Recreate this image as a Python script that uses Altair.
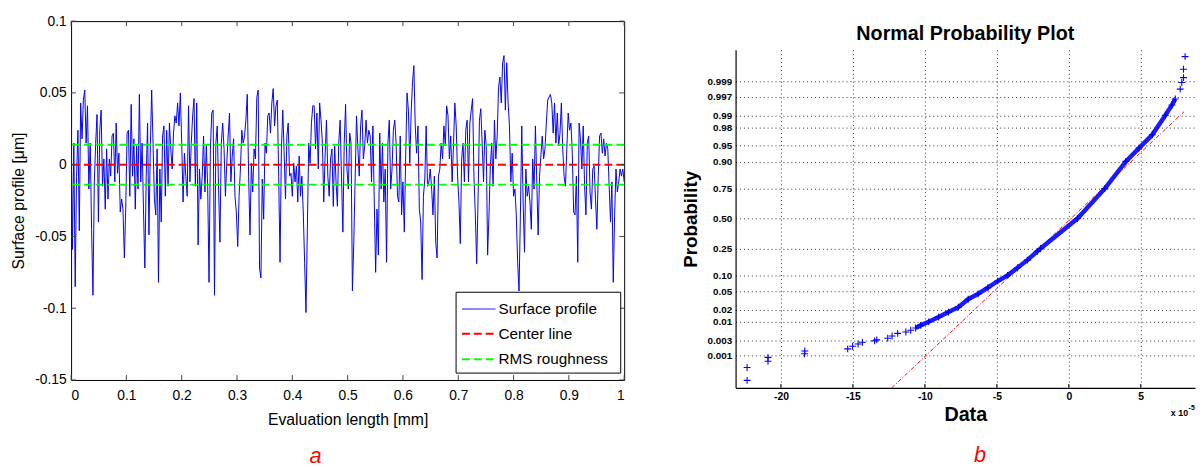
import math
import altair as alt
import pandas as pd
import numpy as np

FONT = "Liberation Sans"

# ---------------- Panel a : surface profile ----------------
# surface profile values read from the picture, in units of 1e-3 um, evenly sampled over 0..1 mm
profile_milli_um = [
    24,-59,15,-85,-8,24,-46,43,18,45,52,15,41,-17,15,-45,-91,-12,15,35,-40,24,38,-15,4,-31,11,-24,4,-8,
    20,22,-12,29,-6,8,-33,-24,-31,-65,-31,22,24,-22,42,-8,18,-31,13,-17,49,-12,15,-31,-72,-8,29,-49,11,52,
    15,-24,-35,11,-82,-3,-40,20,27,-22,24,-15,29,11,-3,22,34,29,43,27,50,15,-26,8,-8,-22,41,-12,15,34,
    46,-15,43,-56,-3,-24,-8,20,-19,13,-15,-82,11,36,38,-91,15,27,-17,-54,15,29,11,-22,1,20,36,-12,6,18,
    -22,-33,-57,-22,-3,24,15,20,
    31,49,-8,-49,1,-19,11,4,47,52,-72,-79,-10,-38,15,8,34,36,22,43,53,27,41,45,-8,-68,11,38,8,-24,
    20,29,-8,-6,-22,1,-12,-1,-26,6,-22,-8,-33,-68,-103,-45,15,1,29,41,41,11,36,-3,43,31,15,-26,6,31,
    -8,-22,4,11,-29,13,-12,-29,15,31,-8,-47,15,42,-3,-17,22,15,-88,-54,-10,34,11,-8,27,38,4,13,31,15,
    24,20,-12,27,-26,-75,-31,-63,22,-17,15,-26,-3,-68,15,31,-17,-3,24,31,15,-22,-26,20,-35,-12,-47,6,50,38,
    1,36,57,69,27,8,27,-31,-40,-80,-22,-10,27,-15,-12,-3,
    -17,-35,-8,-54,-65,-8,-3,15,4,27,13,41,34,4,20,-12,13,43,27,-8,-26,-55,4,15,-12,24,31,-12,29,38,
    46,-8,-35,-69,-24,31,39,15,-12,24,13,-63,-35,-1,15,-15,31,4,20,54,61,43,71,76,38,71,43,27,-12,8,
    -22,-17,-35,-68,-88,-35,27,-26,-61,-3,-22,-15,-26,-45,4,-17,27,-12,-49,-8,6,20,4,11,29,45,47,49,43,22,
    43,15,36,13,22,43,11,-8,-15,11,36,24,29,8,-33,-35,-8,-68,29,18,-3,27,-15,-35,15,20,-19,-31,-3,-1,
    -24,-45,-8,20,22,8,18,6,15,11,-15,-40,-12,-82,-35,-3,-19,-12,-3,-8,-3,-12,
]
center_line_value = 0.0
rms_value = 0.0139
eval_length_mm = [0.0, 1.0]
x_ticks_a = [0, 0.1, 0.2, 0.3, 0.4, 0.5, 0.6, 0.7, 0.8, 0.9, 1]
y_ticks_a = [-0.15, -0.1, -0.05, 0, 0.05, 0.1]
legend_labels = ["Surface profile", "Center line", "RMS roughness"]
legend_colors = ["#0000ff", "#ff0000", "#00ff00"]

# ---------------- Panel b : normal probability plot ----------------
npp_data = [-22.35, -22.35, -20.9, -20.9, -18.36, -18.34, -15.36, -15.02, -14.64, -14.34, -13.49, -13.34,
            -12.58, -12.28, -11.89, -11.32, -10.98, -10.64, -10.29, -9.73, -9.04, -8.36, -7.67, -6.99,
            -6.30, -5.62, -4.93, -4.25, -3.56, -2.88, -2.19, -1.96, 0.6, 2.5, 3.97, 4.88, 5.8, 6.71,
            7.17, 7.4, 7.74, 7.85, 7.97, 7.97, 8.08]
npp_prob = [0.000131, 0.00039, 0.00064, 0.00087, 0.00114, 0.0014, 0.00164, 0.00199, 0.00233, 0.00264,
            0.00289, 0.0031, 0.00347, 0.00402, 0.0048, 0.00523, 0.00587, 0.00676, 0.00798, 0.0099,
            0.0132, 0.0174, 0.0228, 0.0344, 0.0446, 0.0594, 0.0793, 0.100, 0.1335, 0.174, 0.2296,
            0.25, 0.5, 0.75, 0.9015, 0.944, 0.9706, 0.9901, 0.9948, 0.9965, 0.99825, 0.99893,
            0.99926, 0.99962, 0.99987]
band_range = [-10.7, 7.5]
ref_line_data = [-12.3, 8.0]
ref_line_prob = [0.0000667, 0.992]
data_domain_b = [-23.15, 8.77]
prob_domain_b = [0.0000667, 0.99993]
data_ticks_b = [-20, -15, -10, -5, 0, 5]
prob_ticks = [0.001, 0.003, 0.01, 0.02, 0.05, 0.10, 0.25, 0.50, 0.75, 0.90, 0.95, 0.98, 0.99, 0.997, 0.999]
prob_tick_labels = ["0.001", "0.003", "0.01", "0.02", "0.05", "0.10", "0.25", "0.50", "0.75",
                    "0.90", "0.95", "0.98", "0.99", "0.997", "0.999"]


def norminv(p):
    lo, hi = -12.0, 12.0
    for _ in range(200):
        mid = (lo + hi) / 2
        if 0.5 * (1 + math.erf(mid / math.sqrt(2))) < p:
            lo = mid
        else:
            hi = mid
    return (lo + hi) / 2


# ================= Panel a =================
WA, HA = 561, 364
prof_df = pd.DataFrame({
    "x": np.linspace(eval_length_mm[0], eval_length_mm[1], len(profile_milli_um)),
    "y": [v / 1000.0 for v in profile_milli_um],
})

xs_a = alt.Scale(domain=[0, 1], nice=False, zero=False)
ys_a = alt.Scale(domain=[-0.15, 0.1], nice=False, zero=False)

x_axis_a = alt.Axis(values=x_ticks_a, labelExpr="toString(datum.value)", ticks=False, domain=False,
                    grid=False, labelFont=FONT, labelFontSize=14, labelColor="#000", labelPadding=9,
                    labelOverlap=False,
                    title="Evaluation length [mm]", titleFont=FONT, titleFontSize=16,
                    titleFontWeight="normal", titleColor="#000", titlePadding=9)
y_axis_a = alt.Axis(values=y_ticks_a, labelExpr="toString(datum.value)", ticks=False, domain=False,
                    grid=False, labelFont=FONT, labelFontSize=14, labelColor="#000", labelPadding=5,
                    labelOverlap=False,
                    title="Surface profile [\u03bcm]", titleFont=FONT, titleFontSize=16,
                    titleFontWeight="normal", titleColor="#000", titlePadding=8)

profile = alt.Chart(prof_df).mark_line(clip=True, color=legend_colors[0], strokeWidth=1).encode(
    x=alt.X("x:Q", scale=xs_a, axis=x_axis_a),
    y=alt.Y("y:Q", scale=ys_a, axis=y_axis_a),
)
center_rule = alt.Chart(pd.DataFrame({"y": [center_line_value]})).mark_rule(
    color=legend_colors[1], strokeWidth=2, strokeDash=[8, 4]
).encode(y=alt.Y("y:Q", scale=ys_a))
rms_rule = alt.Chart(pd.DataFrame({"y": [rms_value, -rms_value]})).mark_rule(
    color=legend_colors[2], strokeWidth=2, strokeDash=[8, 4]
).encode(y=alt.Y("y:Q", scale=ys_a))

xt = pd.DataFrame({"v": x_ticks_a})
yt = pd.DataFrame({"v": y_ticks_a})
tick_col = "#444"
ticks_a = [
    alt.Chart(xt).mark_rule(color=tick_col).encode(x=alt.X("v:Q", scale=xs_a), y=alt.value(HA), y2=alt.value(HA - 5)),
    alt.Chart(xt).mark_rule(color=tick_col).encode(x=alt.X("v:Q", scale=xs_a), y=alt.value(0), y2=alt.value(5)),
    alt.Chart(yt).mark_rule(color=tick_col).encode(y=alt.Y("v:Q", scale=ys_a), x=alt.value(0), x2=alt.value(5)),
    alt.Chart(yt).mark_rule(color=tick_col).encode(y=alt.Y("v:Q", scale=ys_a), x=alt.value(WA), x2=alt.value(WA - 5)),
]

# legend box (pixel layout inside the plot area)
LX0, LX1, LY0, LY1 = 390.5, 557.5, 275, 357
row_y = [292, 317, 343]
sym_x0, sym_x1, txt_x = 396.5, 430.5, 433.5
one = pd.DataFrame({"k": [0]})
legend_layers = [
    alt.Chart(one).mark_rect(fill="#fff", stroke="#000", strokeWidth=1).encode(
        x=alt.value(LX0), x2=alt.value(LX1), y=alt.value(LY0), y2=alt.value(LY1))
]
dashes = [[1, 0], [8, 4], [8, 4]]
widths = [1, 2, 2]
for i, lab in enumerate(legend_labels):
    legend_layers.append(
        alt.Chart(one).mark_rule(color=legend_colors[i], strokeWidth=widths[i], strokeDash=dashes[i]).encode(
            x=alt.value(sym_x0), x2=alt.value(sym_x1), y=alt.value(row_y[i]))
    )
    legend_layers.append(
        alt.Chart(pd.DataFrame({"t": [lab]})).mark_text(
            font=FONT, fontSize=15.5, color="#000", align="left", baseline="middle"
        ).encode(text="t:N", x=alt.value(txt_x), y=alt.value(row_y[i]))
    )

cap_a = alt.Chart(pd.DataFrame({"t": ["a"]})).mark_text(
    font=FONT, fontSize=22, fontStyle="italic", color="#ff0000", baseline="middle", align="center"
).encode(text="t:N", x=alt.value(248), y=alt.value(441))

left = alt.layer(profile, center_rule, rms_rule, *ticks_a, *legend_layers, cap_a).properties(
    width=WA, height=HA, view=alt.ViewBackground(stroke="#000", strokeWidth=1)
)

# ================= Panel b =================
WB, HB = 466, 343
z_ticks = [norminv(p) for p in prob_ticks]
label_expr = "'%s'" % prob_tick_labels[-1]
for i in range(len(prob_ticks) - 2, -1, -1):
    mid = (z_ticks[i] + z_ticks[i + 1]) / 2
    label_expr = "datum.value < %.5f ? '%s' : %s" % (mid, prob_tick_labels[i], label_expr)

xs_b = alt.Scale(domain=data_domain_b, nice=False, zero=False)
ys_b = alt.Scale(domain=[norminv(prob_domain_b[0]), norminv(prob_domain_b[1])], nice=False, zero=False)

x_axis_b = alt.Axis(values=data_ticks_b, labelExpr="toString(datum.value)", ticks=False,
                    domain=True, domainColor="#000", domainWidth=1.2,
                    grid=True, gridDash=[1, 3], gridColor="#333", gridWidth=1,
                    labelFont=FONT, labelFontSize=10.5, labelFontWeight="bold", labelColor="#000",
                    labelPadding=4, labelOverlap=False,
                    title="Data", titleFont=FONT, titleFontSize=20,
                    titleFontWeight="bold", titleColor="#000", titlePadding=3)
y_axis_b = alt.Axis(values=z_ticks, labelExpr=label_expr, ticks=False,
                    domain=True, domainColor="#000", domainWidth=1.2,
                    grid=True, gridDash=[1, 3], gridColor="#333", gridWidth=1,
                    labelFont=FONT, labelFontSize=10, labelFontWeight="bold", labelColor="#000",
                    labelPadding=4, labelOverlap=False, labelSeparation=0,
                    title="Probability", titleFont=FONT, titleFontSize=19,
                    titleFontWeight="bold", titleColor="#000", titlePadding=7)

enc_x_b = alt.X("x:Q", scale=xs_b, axis=x_axis_b)
enc_y_b = alt.Y("z:Q", scale=ys_b, axis=y_axis_b)

npp_df = pd.DataFrame({"x": npp_data, "p": npp_prob})
ref_df = pd.DataFrame({"x": ref_line_data, "p": ref_line_prob})

base_pts = alt.Chart(npp_df).transform_calculate(z="quantileNormal(datum.p)")
ref_line = alt.Chart(ref_df).transform_calculate(z="quantileNormal(datum.p)").mark_line(
    color="#ff0000", strokeWidth=1, strokeDash=[4, 2, 1, 2], clip=True
).encode(x=enc_x_b, y=enc_y_b)
band = base_pts.transform_filter(
    "datum.x >= %f && datum.x <= %f" % (band_range[0], band_range[1])
).mark_line(color="#1a1aff", strokeWidth=4.5, clip=True).encode(x=enc_x_b, y=enc_y_b)
crosses = base_pts.mark_point(shape="M-1,0L1,0M0,-1L0,1", size=49, filled=False, color="#0000ff",
                              strokeWidth=1.1, opacity=1, clip=True).encode(x=enc_x_b, y=enc_y_b)

xt_b = pd.DataFrame({"v": data_ticks_b})
ticks_b = alt.Chart(xt_b).mark_rule(color="#000").encode(
    x=alt.X("v:Q", scale=xs_b, axis=x_axis_b), y=alt.value(HB), y2=alt.value(HB - 4))

mult = alt.Chart(pd.DataFrame({"t": ["x 10"]})).mark_text(
    font=FONT, fontSize=9, fontWeight="bold", color="#000", align="right", baseline="middle"
).encode(text="t:N", x=alt.value(459), y=alt.value(369))
expo = alt.Chart(pd.DataFrame({"t": ["-5"]})).mark_text(
    font=FONT, fontSize=7, fontWeight="bold", color="#000", align="left", baseline="middle"
).encode(text="t:N", x=alt.value(459.5), y=alt.value(363))
cap_b = alt.Chart(pd.DataFrame({"t": ["b"]})).mark_text(
    font=FONT, fontSize=22, fontStyle="italic", color="#ff0000", baseline="middle", align="center"
).encode(text="t:N", x=alt.value(248), y=alt.value(411))

right = alt.layer(ref_line, band, crosses, ticks_b, mult, expo, cap_b).properties(
    width=WB, height=HB,
    view=alt.ViewBackground(stroke="transparent"),
    title=alt.TitleParams("Normal Probability Plot", font=FONT, fontSize=20, fontWeight="bold",
                          color="#000", anchor="middle", offset=4, dy=-2),
)

spacer = alt.Chart(pd.DataFrame({"t": [""]})).mark_text().encode(text="t:N").properties(
    width=WB, height=1, view=alt.ViewBackground(stroke="transparent")
)
right_col = alt.vconcat(spacer, right, spacing=-4)

chart = alt.hconcat(left, right_col, spacing=55).properties(
    padding={"left": 2, "top": 2, "right": 0, "bottom": 0}
).configure(font=FONT)

chart.save("out.html", embed_options={"renderer": "svg", "actions": False})
